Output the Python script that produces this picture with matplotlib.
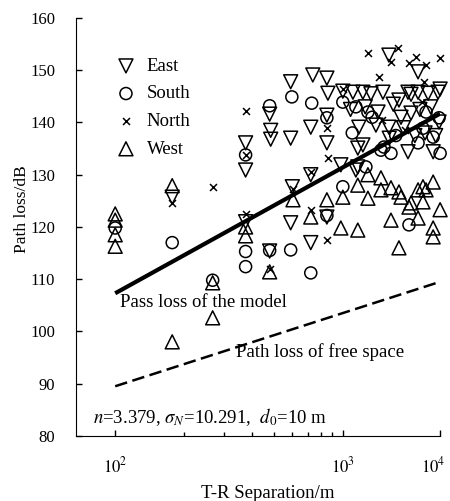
import numpy as np
import matplotlib
matplotlib.use("Agg")
import matplotlib.pyplot as plt
import matplotlib.transforms as mtransforms
from matplotlib.ticker import FixedLocator, FixedFormatter

plt.rcParams['font.family'] = ['Liberation Serif', 'DejaVu Serif']
plt.rcParams['mathtext.fontset'] = 'stix'
plt.rcParams['font.size'] = 12

# measured path loss (T-R separation in m, loss in dB)
east_d = [178, 374, 374, 374, 477, 482, 482, 477, 590, 590, 590, 600,
          723, 723, 723, 738, 851, 860, 851, 851, 851,
          1000, 1270, 1607, 1944, 2585, 4676, 5023, 5935, 7530, 9530, 10000,
          2978, 5935, 3775, 1460, 2189, 2978, 3962, 5023, 9760,
          1425, 1607, 4676, 8480, 980, 1361, 1425,
          1200, 1700, 2300, 3300, 4200, 6200, 7000, 8000, 3000, 5500, 9000]
east_pl = [125.7, 136.1, 130.9, 121.0, 141.6, 138.5, 136.8, 115.4, 147.8, 137.0, 120.8, 127.7,
           139.1, 130.0, 117.0, 149.1, 148.5, 145.6, 141.4, 136.1, 121.9,
           146.0, 145.8, 145.8, 145.5, 145.8, 145.8, 145.4, 145.8, 145.6, 145.8, 146.4,
           152.9, 149.7, 144.3, 139.1, 139.5, 139.1, 141.0, 141.8, 140.1,
           135.1, 135.7, 134.4, 134.4, 131.9, 130.9, 131.5,
           142.5, 143.0, 142.0, 143.5, 139.0, 142.5, 138.0, 143.0, 137.0, 137.5, 137.5]

south_d = [100, 178, 268, 374, 374, 374, 477, 477, 597, 590, 730, 723, 851, 851,
           1000, 1361, 1811, 7171, 9760, 8480, 6669, 2646, 2465, 3125, 5935, 10000,
           1000, 1726, 4786, 3500, 1250, 2000]
south_pl = [119.8, 117.0, 109.8, 133.8, 115.3, 112.4, 143.2, 115.5, 144.9, 115.6, 143.7, 111.2, 140.9, 122.2,
            143.9, 143.0, 142.0, 142.0, 140.9, 137.2, 138.9, 135.3, 134.7, 134.1, 136.1, 134.1,
            127.7, 131.5, 120.4, 137.5, 138.0, 141.0]

north_d = [178, 270, 374, 374, 374, 477, 604, 723, 723, 851, 860, 851,
           1000, 1811, 3690, 3125, 5656, 4786, 7171, 10000, 2350, 6830,
           2500, 4400, 6500]
north_pl = [124.6, 127.7, 142.2, 133.8, 122.5, 112.0, 127.2, 130.5, 123.3, 138.9, 133.2, 117.5,
            146.4, 153.3, 154.3, 151.6, 152.5, 151.4, 151.0, 152.3, 148.7, 147.8,
            140.5, 138.5, 144.0]

west_d = [100, 100, 100, 100, 178, 268, 268, 178, 374, 374, 477, 604, 723, 851,
          1000, 1425, 1811, 1811, 2465, 2465, 3125, 3775, 3962, 4786, 5023, 5935,
          6669, 7171, 8480, 6669, 5935, 10000, 3125, 8480, 8480, 3775, 980, 1425]
west_pl = [122.5, 121.3, 118.5, 116.3, 127.9, 109.3, 102.6, 98.0, 120.0, 118.3, 111.4, 125.2, 121.9, 125.2,
           125.7, 128.0, 130.0, 125.5, 129.4, 127.1, 127.5, 126.7, 125.7, 123.8, 124.6, 127.1,
           127.7, 127.1, 128.6, 124.8, 121.7, 123.3, 121.3, 119.8, 118.1, 116.0, 119.8, 119.4]

# fitted model and free-space reference lines
line_d = [100, 10000]
model_pl = [107.3, 141.7]
free_pl = [89.5, 109.5]

# second decade of the axis is drawn compressed
K = 97 / 227


def fwd(x):
    lx = np.log10(np.clip(x, 1e-3, None))
    return np.where(lx <= 3, lx - 3, (lx - 3) * K)


def inv(y):
    return np.where(y <= 0, 10 ** (y + 3), 10 ** (y / K + 3))


fig = plt.figure(figsize=(4.5, 5.01), dpi=100)
ax = fig.add_axes([0.169, 0.130, 0.809, 0.834])
ax.set_xscale('function', functions=(fwd, inv))

kw = dict(facecolor='none', edgecolors='black', linewidths=1.1, clip_on=False, zorder=3)
ax.scatter(east_d, east_pl, marker='v', s=100, label='East', **kw)
ax.scatter(south_d, south_pl, marker='o', s=75, label='South', **kw)
ax.scatter(north_d, north_pl, marker='x', s=25, color='black', linewidths=1.1,
           clip_on=False, zorder=3, label='North')
ax.scatter(west_d, west_pl, marker='^', s=100, label='West', **kw)

ax.plot(line_d, model_pl, color='black', lw=3, solid_capstyle='butt', zorder=4)
ax.plot(line_d, free_pl, color='black', lw=1.8, dashes=(5, 2.2), zorder=4)

ax.text(0.121, 0.309, 'Pass loss of the model', transform=ax.transAxes,
        va='baseline', fontsize=13.5)
ax.text(0.44, 0.189, 'Path loss of free space', transform=ax.transAxes,
        va='baseline', fontsize=13.5)
ax.text(0.047, 0.031, r'$n$=3.379, $\sigma_{N}$=10.291,  $d_0$=10 m',
        transform=ax.transAxes, va='baseline', fontsize=13.5)

ax.set_xlim(67.3, 10000)
ax.set_ylim(80, 160)
ax.xaxis.set_major_locator(FixedLocator([100, 1000, 10000]))
ax.xaxis.set_major_formatter(FixedFormatter([r'$10^2$', r'$10^3$', r'$10^4$']))
ax.xaxis.set_minor_locator(FixedLocator([200, 300, 400, 500, 600, 700, 800, 900]))
ax.xaxis.set_minor_formatter(FixedFormatter([]))
ax.set_yticks(np.arange(80, 161, 10))

ax.tick_params(which='both', direction='in', pad=15, labelsize=12)
ax.tick_params(which='major', length=4, width=1)
ax.tick_params(which='minor', length=3, width=1)
ax.spines['top'].set_visible(False)
ax.spines['right'].set_visible(False)

# pull the last decade label back inside the figure
fig.canvas.draw()
last = ax.xaxis.get_majorticklabels()[-1]
last.set_transform(last.get_transform() +
                   mtransforms.ScaledTranslation(-5 / 72, 0, fig.dpi_scale_trans))

ax.set_xlabel('T-R Separation/m', fontsize=13.5)
ax.set_ylabel('Path loss/dB', fontsize=12.5)
ax.xaxis.set_label_coords(0.527, -0.117)
ax.yaxis.set_label_coords(-0.126, 0.543)

ax.legend(loc='upper left', bbox_to_anchor=(0.065, 0.923), frameon=False,
          handletextpad=0.1, labelspacing=0.56, borderaxespad=0, fontsize=13.5)

fig.savefig('out.png', dpi=100)
